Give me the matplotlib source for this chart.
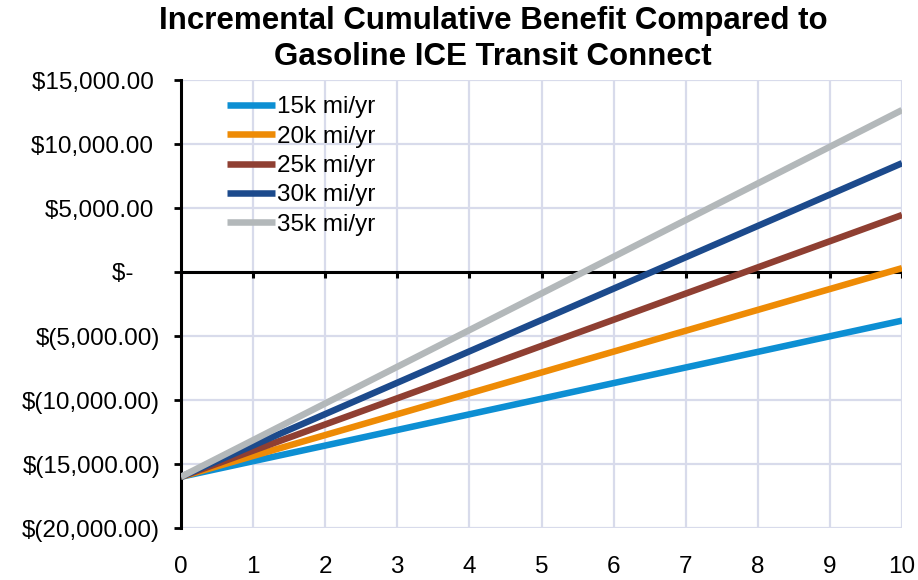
import matplotlib
matplotlib.use('Agg')
from matplotlib import pyplot as plt
from matplotlib.ticker import FuncFormatter

plt.rcParams['font.family'] = ['Liberation Sans', 'DejaVu Sans']

years = [0, 1, 2, 3, 4, 5, 6, 7, 8, 9, 10]
labels = ['15k mi/yr', '20k mi/yr', '25k mi/yr', '30k mi/yr', '35k mi/yr']
colors = ['#0d8fd3', '#ee8b05', '#8f3f32', '#1c4a8c', '#b3b8ba']

# beneficio acumulado por kilometraje anual
b15 = [-16000, -14780, -13560, -12340, -11120, -9900, -8680, -7460, -6240, -5020, -3800]
b20 = [-16000, -14370, -12740, -11110, -9480, -7850, -6220, -4590, -2960, -1330, 300]
b25 = [-16000, -13955, -11910, -9865, -7820, -5775, -3730, -1685, 360, 2405, 4450]
b30 = [-16000, -13550, -11100, -8650, -6200, -3750, -1300, 1150, 3600, 6050, 8500]
b35 = [-16000, -13135, -10270, -7405, -4540, -1675, 1190, 4055, 6920, 9785, 12650]
series = [b15, b20, b25, b30, b35]

ymin, ymax = -20000, 15000


def money(v, pos):
    # formato contable de Excel
    if v == 0:
        return '$-    '
    if v < 0:
        return '$({:,.2f})'.format(-v)
    return '${:,.2f} '.format(v)


fig = plt.figure(figsize=(9.18, 5.8), dpi=100)
ax = fig.add_axes([181 / 918, 1 - 528 / 580, (902 - 181) / 918, (528 - 80) / 580])

for vals, lab, col in zip(series, labels, colors):
    ax.plot(years, vals, color=col, lw=4.7, label=lab, solid_capstyle='butt', zorder=3)

ax.set_xlim(0, 10)
ax.set_ylim(ymin, ymax)
ax.set_xticks(years)
ax.set_yticks(range(ymin, ymax + 1, 5000))
ax.yaxis.set_major_formatter(FuncFormatter(money))
ax.grid(True, color='#d8dbeb', lw=1.6)
ax.set_axisbelow(True)

for s in ['top', 'right', 'bottom']:
    ax.spines[s].set_visible(False)
ax.spines['left'].set_linewidth(2.2)
ax.tick_params(axis='y', direction='out', length=5, width=2, labelsize=17.5, pad=10)
ax.tick_params(axis='x', length=0, labelsize=17.5, pad=20)

# eje x cruzando en cero, con sus marcas
ax.axhline(0, color='black', lw=2.2, zorder=2)
ax.vlines(years, ymin=-500, ymax=0, color='black', lw=2.2, zorder=2)

leg = ax.legend(loc='upper left', bbox_to_anchor=(0.05, 0.985), frameon=False,
                fontsize=17.5, handlelength=2.0, handletextpad=0.05,
                labelspacing=0.3, borderaxespad=0)

fig.text(493 / 918, 1 - 21 / 580, 'Incremental Cumulative Benefit Compared to',
         ha='center', va='center', fontsize=22.5, fontweight='bold')
fig.text(493 / 918, 1 - 57 / 580, 'Gasoline ICE Transit Connect',
         ha='center', va='center', fontsize=22.5, fontweight='bold')

plt.savefig('out.png', dpi=100)
